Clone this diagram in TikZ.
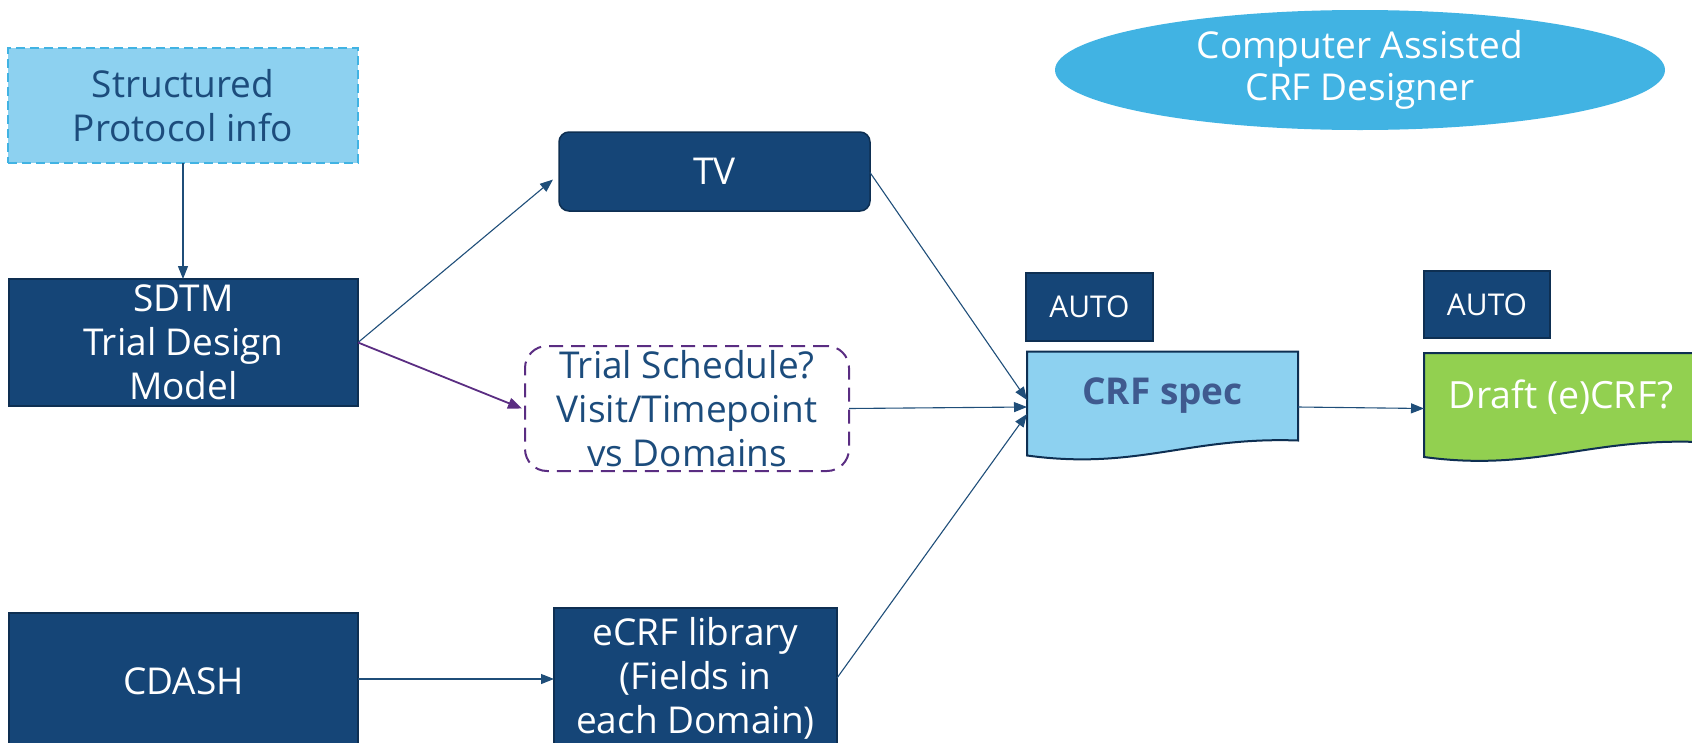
\documentclass[tikz,border=0pt]{standalone}
\usepackage{fontspec}
\setmainfont{Open Sans}
\usetikzlibrary{arrows.meta,shapes.geometric,calc}
\definecolor{navy}{HTML}{154577}
\definecolor{navyedge}{HTML}{0E2F52}
\definecolor{navytext}{HTML}{1C4C7C}
\definecolor{lightblue}{HTML}{8DD1F0}
\definecolor{skyblue}{HTML}{41B3E3}
\definecolor{leaf}{HTML}{92D050}
\definecolor{plum}{HTML}{5A2D82}
\definecolor{specblue}{HTML}{3F5A8F}
\definecolor{wire}{HTML}{1F4E79}
\tikzset{
  x=1pt, y=-1pt,
  body/.style={font=\fontsize{37}{44}\selectfont, align=center, inner sep=0pt, outer sep=0pt},
  navybox/.style={body, draw=navyedge, line width=1.5pt, fill=navy, text=white},
  dashbox/.style={body, draw=skyblue, line width=2pt, dash pattern=on 9pt off 5pt, fill=lightblue, text=navytext},
  schedbox/.style={body, draw=plum, line width=2pt, dash pattern=on 14pt off 8pt, rounded corners=22pt, fill=white, text=navytext},
  autobox/.style={navybox, font=\fontsize{30}{34}\selectfont},
  link/.style={draw=wire, line width=1.1pt, -{Triangle[length=13pt,width=10pt]}},
  purplelink/.style={draw=plum, line width=1.8pt, -{Triangle[length=14pt,width=11pt]}},
  docshape/.style={draw=navyedge, line width=2pt},
}
\begin{document}
\begin{tikzpicture}
\useasboundingbox (0,0) rectangle (1692,742);

% left column
\node[dashbox, minimum width=350, minimum height=115] (proto) at (183,105.5) {Structured\\Protocol info};
\node[navybox, minimum width=349, minimum height=127] (sdtm) at (183.5,342.5) {SDTM\\Trial Design\\Model};
\node[navybox, minimum width=349, minimum height=136] (cdash) at (183.5,681) {CDASH};

% middle column
\node[navybox, rounded corners=10pt, minimum width=311, minimum height=79] (tv) at (714.5,171.5) {TV};
\node[schedbox, minimum width=324, minimum height=125] (sched) at (687,408.5) {Trial Schedule?\\Visit/Timepoint\\vs Domains};
\node[navybox, minimum width=283, minimum height=140] (ecrf) at (695.5,678) {eCRF library\\(Fields in\\each Domain)};

% title ellipse
\node[ellipse, fill=skyblue, minimum width=610, minimum height=120, inner sep=0pt,
      font=\fontsize{37}{42}\selectfont, align=center, text=white] (title) at (1360,70) {Computer Assisted\\CRF Designer};

% AUTO tags
\node[autobox, minimum width=127, minimum height=68] (auto1) at (1089.5,307) {AUTO};
\node[autobox, minimum width=126, minimum height=67] (auto2) at (1487,304.5) {AUTO};

% CRF spec document
\node[inner sep=0pt, outer sep=0pt, minimum width=271, minimum height=89] (crf) at (1162.5,396) {};
\draw[docshape, fill=lightblue] (crf.north west) -- (crf.north east) -- (crf.south east)
  .. controls ($(crf.south east)+(-110,-4)$) and ($(crf.south west)+(110,30)$) .. ($(crf.south west)+(0,15)$) -- cycle;
\node[font=\fontsize{37}{44}\selectfont\bfseries, text=specblue] at (crf.center) {CRF spec};

% Draft document
\node[inner sep=0pt, outer sep=0pt, minimum width=274, minimum height=89] (draft) at (1561,397.5) {};
\draw[docshape, fill=leaf] (draft.north west) -- (draft.north east) -- (draft.south east)
  .. controls ($(draft.south east)+(-110,-4)$) and ($(draft.south west)+(110,30)$) .. ($(draft.south west)+(0,15)$) -- cycle;
\node[font=\fontsize{37.5}{44}\selectfont, text=white] at (draft.center) {Draft (e)CRF?};

% arrival points on the CRF spec
\coordinate (inTop) at ([yshift=-4pt]crf.west);
\coordinate (inMid) at ([yshift=-11pt]crf.west);
\coordinate (inLow) at ([yshift=-18pt]crf.west);

% connectors
\draw[link] (proto.south) -- (proto.south |- sdtm.north);
\draw[link] (sdtm.east) -- ([xshift=-6pt,yshift=-8pt]tv.west);
\draw[purplelink] (sdtm.east) -- ([xshift=-3pt]sched.west);
\draw[link] ([yshift=-1pt]tv.east) -- (inTop);
\draw[link] (sched.east) -- (inMid);
\draw[link] (ecrf.east) -- (inLow);
\draw[link] ([yshift=2pt]cdash.east) -- ([yshift=2pt]cdash.east -| ecrf.west);
\draw[link] ([yshift=-11pt]crf.east) -- ([yshift=-11pt]draft.west);
\end{tikzpicture}
\end{document}
